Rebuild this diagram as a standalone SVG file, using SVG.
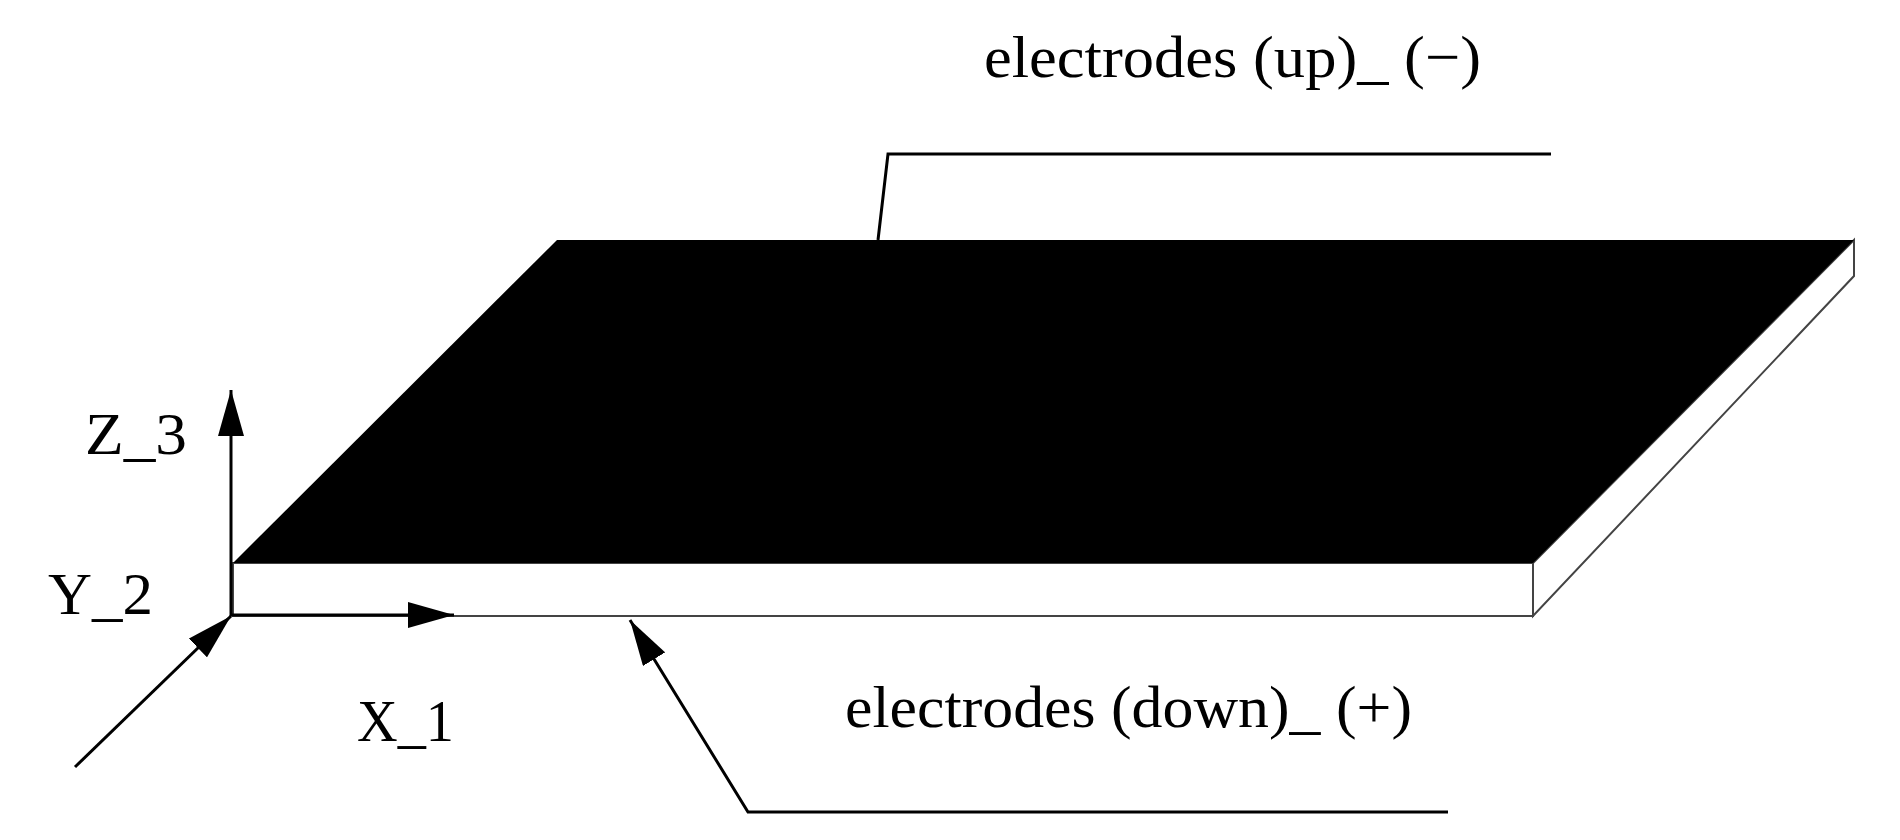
<svg xmlns="http://www.w3.org/2000/svg" width="1900" height="840" viewBox="0 0 1900 840">
<style>
text{font-family:"Liberation Serif","Times New Roman",serif;fill:#000}
.lbl{font-size:60px}
.ax{font-size:60px}
.ln{stroke:#000;stroke-width:3;fill:none}
.edge{stroke:#444;stroke-width:2;fill:#fff}
</style>
<defs>
<marker id="ah" viewBox="0 0 46 26" refX="46" refY="13" markerWidth="46" markerHeight="26" markerUnits="userSpaceOnUse" orient="auto">
<path d="M0,0 L46,13 L0,26 Z" fill="#000"/>
</marker>
</defs>
<rect width="1900" height="840" fill="#fff"/>
<g id="slab">
<rect class="edge" x="233" y="563" width="1300" height="53"/>
<polygon class="edge" points="1533,563 1854,240 1854,276 1533,616"/>
<polygon points="557,240 1854,240 1533,563 233,563" fill="#000"/>
</g>
<g id="connectors">
<line class="ln" x1="231" y1="616" x2="231" y2="390" marker-end="url(#ah)"/>
<line class="ln" x1="231" y1="615" x2="454" y2="615" marker-end="url(#ah)"/>
<line class="ln" x1="75" y1="767" x2="231" y2="616" marker-end="url(#ah)"/>
<polyline class="ln" points="878,240 888,154 1551,154"/>
<polyline class="ln" points="1448,812 748,812 630,620" marker-end="url(#ah)"/>
</g>
<g id="labels">
<text class="ax" x="85" y="454" textLength="102" lengthAdjust="spacingAndGlyphs">Z_3</text>
<text class="ax" x="48" y="614" textLength="105" lengthAdjust="spacingAndGlyphs">Y_2</text>
<text class="ax" x="357" y="741" textLength="97" lengthAdjust="spacingAndGlyphs">X_1</text>
<text class="lbl" x="984" y="77" textLength="497" lengthAdjust="spacingAndGlyphs">electrodes (up)_ (−)</text>
<text class="lbl" x="845" y="727" textLength="567" lengthAdjust="spacingAndGlyphs">electrodes (down)_ (+)</text>
</g>
</svg>
